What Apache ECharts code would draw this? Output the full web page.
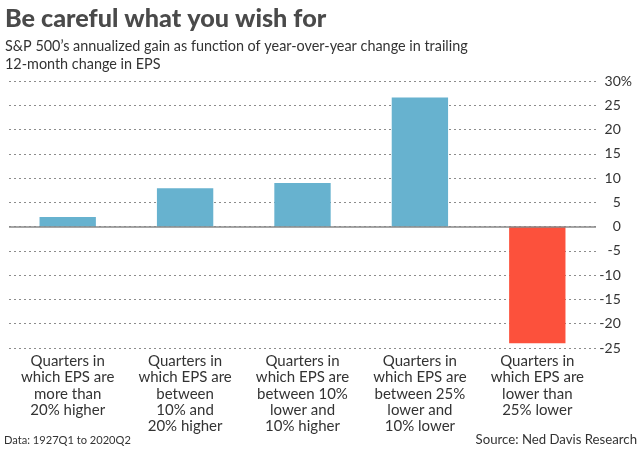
<!DOCTYPE html>
<html>
<head>
<meta charset="utf-8">
<script src="https://cdn.jsdelivr.net/npm/echarts@6/dist/echarts.min.js"></script>
<style>
html,body{margin:0;padding:0;background:#fff;}
#c{width:640px;height:449px;}
</style>
</head>
<body>
<div id="c"></div>
<script>
var categories = [
  'Quarters in\nwhich EPS are\nmore than\n20% higher',
  'Quarters in\nwhich EPS are\nbetween\n10% and\n20% higher',
  'Quarters in\nwhich EPS are\nbetween 10%\nlower and\n10% higher',
  'Quarters in\nwhich EPS are\nbetween 25%\nlower and\n10% lower',
  'Quarters in\nwhich EPS are\nlower than\n25% lower'
];
var gains = [2.0, 7.9, 9.0, 26.6, -24.0];
var yTicks = { min: -25, max: 30, interval: 5 };

var chart = echarts.init(document.getElementById('c'));
var font = 'Lato, "Noto Sans", sans-serif';
chart.setOption({
  backgroundColor: '#fff',
  animation: false,
  textStyle: { fontFamily: font },
  title: [
    { text: 'Be careful what you wish for', left: 0, top: 1,
      textStyle: { fontFamily: font, fontSize: 25.2, fontWeight: 900, color: '#4a4a4a' } },
    { text: 'S&P 500\u2019s annualized gain as function of year-over-year change in trailing\n12-month change in EPS',
      left: 0, top: 32,
      textStyle: { fontFamily: font, fontSize: 14.4, fontWeight: 'normal', color: '#333', lineHeight: 18 } },
    { text: 'Data: 1927Q1 to 2020Q2', left: -1, bottom: -2,
      textStyle: { fontFamily: font, fontSize: 11.1, fontWeight: 'normal', color: '#333' } },
    { text: 'Source: Ned Davis Research', right: -2, bottom: -2,
      textStyle: { fontFamily: font, fontSize: 13.2, fontWeight: 'normal', color: '#333' } }
  ],
  grid: { left: 9, right: 44, top: 81, bottom: 101, containLabel: false },
  xAxis: {
    type: 'category',
    data: categories,
    axisLine: { show: false, onZero: false },
    axisTick: { show: false },
    axisLabel: { interval: 0, margin: 5, fontSize: 15, lineHeight: 16.3, color: '#333', fontFamily: font, verticalAlign: 'top' },
    splitLine: { show: false }
  },
  yAxis: {
    type: 'value',
    position: 'right',
    min: yTicks.min, max: yTicks.max, interval: yTicks.interval,
    axisLine: { show: false },
    axisTick: { show: false },
    axisLabel: {
      margin: 36,
      fontSize: 14, color: '#333', fontFamily: font, align: 'right',
      formatter: function (v) { return v === yTicks.max ? v + '{s|%}' : v + '{h|%}'; },
      rich: {
        s: { fontSize: 14, color: '#333', fontFamily: font },
        h: { fontSize: 14, color: 'rgba(0,0,0,0)', fontFamily: font }
      }
    },
    splitLine: { lineStyle: { type: [2, 3], color: '#8c8c8c', width: 1 } }
  },
  series: [{
    type: 'bar',
    data: gains.map(function (v) {
      return { value: v, itemStyle: { color: v < 0 ? '#fc513c' : '#67b2cf' } };
    }),
    barWidth: '48%',
    markLine: {
      silent: true, symbol: 'none', label: { show: false },
      lineStyle: { type: 'solid', color: '#888', width: 1.5 },
      data: [{ yAxis: 0 }]
    }
  }]
});
</script>
</body>
</html>
